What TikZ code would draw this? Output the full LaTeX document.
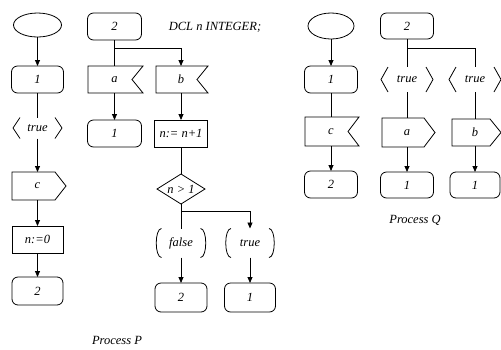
\documentclass[tikz,border=0pt]{standalone}
\usepackage{fontspec}
\setmainfont{Liberation Serif}
\usetikzlibrary{arrows.meta,shapes.geometric}
\begin{document}
\begin{tikzpicture}[x=1pt,y=-1pt,line width=0.8pt,
  lbl/.style={font=\fontsize{12.5}{14}\selectfont\itshape, inner sep=0pt, outer sep=0pt},
  box/.style 2 args={lbl, minimum width=#1pt, minimum height=#2pt},
  state/.style={draw, rounded corners=6pt},
  task/.style={draw},
  startst/.style={draw, ellipse},
  % input signal: notch on the right side
  sdlin/.style={append after command={\pgfextra{\let\sdlnd\tikzlastnode
    \draw (\sdlnd.north west) -- ([xshift=2pt]\sdlnd.north east)
      -- ([xshift=-9pt]\sdlnd.east) -- ([xshift=2pt]\sdlnd.south east)
      -- (\sdlnd.south west) -- cycle;}}},
  % output signal: point on the right side
  sdlout/.style={append after command={\pgfextra{\let\sdlnd\tikzlastnode
    \draw (\sdlnd.north west) -- ([xshift=-8pt]\sdlnd.north east)
      -- ([xshift=3pt]\sdlnd.east) -- ([xshift=-8pt]\sdlnd.south east)
      -- (\sdlnd.south west) -- cycle;}}},
  % continuous signal: angle brackets
  sdlcont/.style={append after command={\pgfextra{\let\sdlnd\tikzlastnode
    \draw ([xshift=7pt]\sdlnd.north west) -- (\sdlnd.west) -- ([xshift=7pt]\sdlnd.south west);
    \draw ([xshift=-7pt]\sdlnd.north east) -- (\sdlnd.east) -- ([xshift=-7pt]\sdlnd.south east);}}},
  % decision answer: round brackets
  sdlans/.style={append after command={\pgfextra{\let\sdlnd\tikzlastnode
    \draw ([xshift=7pt]\sdlnd.north west) .. controls (\sdlnd.north west) and (\sdlnd.south west) .. ([xshift=7pt]\sdlnd.south west);
    \draw ([xshift=-7pt]\sdlnd.north east) .. controls (\sdlnd.north east) and (\sdlnd.south east) .. ([xshift=-7pt]\sdlnd.south east);}}},
  decision/.style={append after command={\pgfextra{\let\sdlnd\tikzlastnode
    \draw (\sdlnd.north) -- (\sdlnd.east) -- (\sdlnd.south) -- (\sdlnd.west) -- cycle;}}},
  arr/.style={-{Triangle[length=6pt,width=5pt]}}
]
\path[use as bounding box, fill=white] (0,0) rectangle (501,349);

% ---------------- Process P ----------------
\node[box={48}{24}, startst] (startP) at (37.5,25) {};
\node[box={52}{27}, state]   (s1P)    at (37.5,79.5) {1};
\node[box={49}{21}, sdlcont] (contP)  at (37.5,128) {true};
\node[box={51}{28}, sdlout]  (cP)     at (37.5,186) {c};
\node[box={51}{27}, task]    (n0)     at (37.5,239.5) {n:=0};
\node[box={51}{28}, state]   (s2P)    at (37.5,291) {2};

\node[box={54}{27}, state]   (s2topP) at (114.5,26.5) {2};
\node[box={53}{27}, sdlin]   (aP)     at (114.5,79.5) {a};
\node[box={54}{27}, state]   (s1aP)   at (114.5,133.5) {1};

\node[box={50}{27}, sdlin]   (bP)     at (181,79.5) {b};
\node[box={53}{27}, task]    (incP)   at (181,133.5) {n:= n+1};
\node[box={48}{30}, decision] (decP)  at (181,189) {n > 1};
\node[box={53}{29}, sdlans]  (falseP) at (181,243) {false};
\node[box={52}{29}, state]   (s2bP)   at (181,297.5) {2};

\node[box={52}{29}, sdlans]  (trueP)  at (250,243) {true};
\node[box={51}{29}, state]   (s1bP)   at (250,297.5) {1};

\node[lbl] (dcl)   at (215,27)  {DCL n INTEGER;};
\node[lbl] (procP) at (117,340) {Process P};

\coordinate (jP) at (114.5,48);
\coordinate (jD) at (181,211);

\draw[arr] (startP) -- (s1P);
\draw      (s1P) -- (contP);
\draw[arr] (contP) -- (cP);
\draw[arr] (cP) -- (n0);
\draw[arr] (n0) -- (s2P);

\draw      (s2topP) -- (aP);
\draw[arr] (jP) -| (bP);
\draw[arr] (aP) -- (s1aP);
\draw[arr] (bP) -- (incP);
\draw      (incP) -- (decP);
\draw      (decP) -- (falseP);
\draw[arr] (jD) -| (trueP);
\draw[arr] (falseP) -- (s2bP);
\draw[arr] (trueP) -- (s1bP);

% ---------------- Process Q ----------------
\node[box={46}{26}, startst] (startQ) at (331,26) {};
\node[box={53}{27}, state]   (s1Q)    at (331,79.5) {1};
\node[box={52}{29}, sdlin]   (cQ)     at (331,131.5) {c};
\node[box={53}{27}, state]   (s2Q)    at (331,184.5) {2};

\node[box={53}{26}, state]   (s2topQ) at (407,26) {2};
\node[box={52}{25}, sdlcont] (true1Q) at (407,79.5) {true};
\node[box={50}{29}, sdlout]  (aQ)     at (407,132.5) {a};
\node[box={53}{26}, state]   (s1aQ)   at (407,185) {1};

\node[box={52}{25}, sdlcont] (true2Q) at (475,79.5) {true};
\node[box={46}{27}, sdlout]  (bQ)     at (475,132.5) {b};
\node[box={50}{26}, state]   (s1bQ)   at (475,185) {1};

\node[lbl] (procQ) at (415,220) {Process Q};

\coordinate (jQ) at (407,48);

\draw[arr] (startQ) -- (s1Q);
\draw      (s1Q) -- (cQ);
\draw[arr] (cQ) -- (s2Q);
\draw      (s2topQ) -- (true1Q);
\draw      (jQ) -| (true2Q);
\draw      (true1Q) -- (aQ);
\draw      (true2Q) -- (bQ);
\draw[arr] (aQ) -- (s1aQ);
\draw[arr] (bQ) -- (s1bQ);
\end{tikzpicture}
\end{document}
